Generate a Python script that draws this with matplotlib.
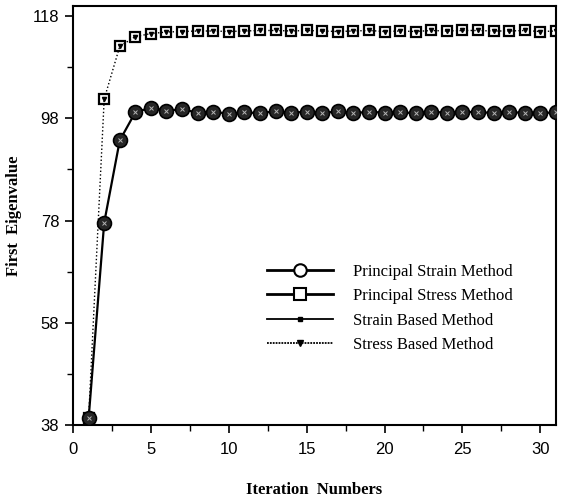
import matplotlib
matplotlib.use("Agg")
import matplotlib.pyplot as plt
from matplotlib.lines import Line2D
from matplotlib.ticker import MultipleLocator

# iteration numbers
iterations = list(range(1, 32))

# first eigenvalue, principal strain method (and strain based method)
strain_vals = [39.3, 77.6, 93.7, 99.2, 100.1, 99.5, 99.8, 99.1, 99.3, 98.9, 99.2,
               99.0, 99.4, 99.1, 99.3, 99.0, 99.4, 99.0, 99.3, 99.1, 99.2, 99.0,
               99.3, 99.1, 99.2, 99.3, 99.0, 99.2, 99.1, 99.0, 99.2]

# first eigenvalue, principal stress method (and stress based method)
stress_vals = [39.3, 101.8, 112.1, 114.0, 114.6, 114.9, 115.0, 115.1, 115.1, 115.0, 115.1,
               115.2, 115.2, 115.1, 115.2, 115.1, 115.0, 115.1, 115.2, 115.0, 115.1, 115.0,
               115.2, 115.1, 115.2, 115.2, 115.1, 115.1, 115.2, 115.0, 115.1]

labels = ["Principal Strain Method", "Principal Stress Method",
          "Strain Based Method", "Stress Based Method"]

fig = plt.figure(figsize=(5.62, 4.97), dpi=100)
ax = fig.add_axes([0.13, 0.145, 0.859, 0.843])

# stress based (dotted) + principal stress (open squares)
ax.plot(iterations, stress_vals, linestyle=":", color="black", lw=1.0,
        marker="v", markersize=3, zorder=2)
ax.plot(iterations, stress_vals, linestyle="none", marker="s", markersize=7.5,
        markerfacecolor="none", markeredgecolor="black", markeredgewidth=1.6, zorder=3)

# strain based (solid) + principal strain (circles)
ax.plot(iterations, strain_vals, linestyle="-", color="black", lw=1.6,
        marker="o", markersize=10, markerfacecolor="0.15",
        markeredgecolor="black", markeredgewidth=1.2, zorder=3)
ax.plot(iterations, strain_vals, linestyle="none", marker="x", markersize=3,
        markeredgecolor="0.7", markeredgewidth=0.7, zorder=4)

ax.set_xlim(0, 31)
ax.set_ylim(38, 120)
ax.xaxis.set_major_locator(MultipleLocator(5))
ax.xaxis.set_minor_locator(MultipleLocator(2.5))
ax.set_yticks([38, 58, 78, 98, 118])
ax.set_yticks([48, 68, 88, 108], minor=True)
ax.tick_params(which="major", direction="out", length=6, width=1.2,
               labelsize=12, pad=4)
ax.tick_params(which="minor", direction="out", length=4, width=1.0)
ax.tick_params(axis="x", which="major", pad=6)
for lbl in ax.get_xticklabels() + ax.get_yticklabels():
    lbl.set_family("Liberation Sans")

for sp in ax.spines.values():
    sp.set_linewidth(1.5)

ax.set_xlabel("Iteration  Numbers", family="Liberation Serif", fontweight="bold",
              fontsize=12, labelpad=18)
ax.set_ylabel("First  Eigenvalue", family="Liberation Serif", fontweight="bold",
              fontsize=12, labelpad=8)

handles = [
    Line2D([], [], color="black", lw=2, marker="o", markersize=9,
           markerfacecolor="white", markeredgewidth=1.5),
    Line2D([], [], color="black", lw=2, marker="s", markersize=8,
           markerfacecolor="white", markeredgewidth=1.5),
    Line2D([], [], color="black", lw=1.3, marker="s", markersize=3),
    Line2D([], [], color="black", lw=1.3, linestyle=(0, (1, 0.6)), marker="v", markersize=4),
]
ax.legend(handles, labels, loc="upper left", bbox_to_anchor=(0.37, 0.42),
          frameon=False, handlelength=4.0, handletextpad=1.2, labelspacing=0.5,
          prop={"family": "Liberation Serif", "size": 12})

plt.savefig("out.png", dpi=100)
